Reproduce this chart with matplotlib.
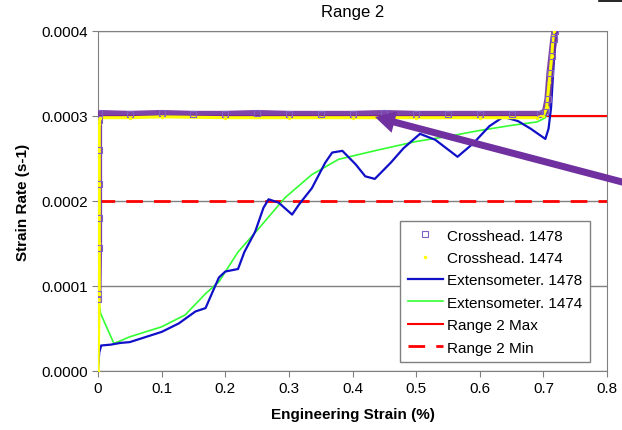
import matplotlib
matplotlib.use("Agg")
import matplotlib.pyplot as plt
from matplotlib.patches import FancyArrow
from matplotlib.lines import Line2D

plt.rcParams['font.family'] = ['Liberation Sans', 'DejaVu Sans']

# crosshead 1478 (purple squares)
ch78_x = [0.0, 0.0, 0.001, 0.001, 0.001, 0.001, 0.001, 0.002, 0.05, 0.1, 0.15, 0.2, 0.25, 0.3, 0.35,
          0.4, 0.45, 0.5, 0.55, 0.6, 0.65, 0.695, 0.703, 0.707, 0.710, 0.713, 0.716, 0.718]
ch78_y = [0.000085, 0.000090, 0.000145, 0.00018, 0.00022, 0.00026, 0.000295, 0.000303, 0.000302, 0.000303,
          0.000302, 0.000302, 0.000303, 0.000302, 0.000302, 0.000302, 0.000303, 0.000302, 0.000302,
          0.000302, 0.000302, 0.000302, 0.000305, 0.00032, 0.00035, 0.00037, 0.00039, 0.0004]
# crosshead 1474 (yellow dots)
ch74_x = [0.0, 0.002, 0.002, 0.002, 0.002, 0.003, 0.05, 0.1, 0.2, 0.3, 0.4, 0.5, 0.6, 0.69, 0.70,
          0.705, 0.709, 0.713, 0.716]
ch74_y = [0.0, 0.00009, 0.00015, 0.00022, 0.00029, 0.000298, 0.000298, 0.000299, 0.000298, 0.000298,
          0.000298, 0.000298, 0.000298, 0.000298, 0.0003, 0.00031, 0.00034, 0.00037, 0.0004]

# extensometer 1478 (blue)
ex78_x = [0.0, 0.002, 0.005, 0.02, 0.035, 0.05, 0.075, 0.1, 0.127, 0.153, 0.169, 0.18, 0.19, 0.2,
          0.22, 0.23, 0.247, 0.26, 0.268, 0.284, 0.305, 0.316, 0.336, 0.357, 0.368, 0.384, 0.405,
          0.42, 0.435, 0.46, 0.48, 0.506, 0.53, 0.565, 0.59, 0.615, 0.637, 0.66, 0.68, 0.703, 0.708,
          0.712, 0.716, 0.72]
ex78_y = [0.000003, 0.000022, 0.00003, 0.000031, 0.000033, 0.000034, 0.00004, 0.000046, 0.000056,
          0.00007, 0.000074, 0.000093, 0.00011, 0.000117, 0.00012, 0.00014, 0.000164, 0.000192,
          0.000202, 0.000198, 0.000184, 0.000196, 0.000215, 0.000245, 0.000257, 0.000259, 0.000243,
          0.000229, 0.000226, 0.000245, 0.000262, 0.000279, 0.000272, 0.000252, 0.000268, 0.000288,
          0.000299, 0.000294, 0.000285, 0.000273, 0.000285, 0.00031, 0.00036, 0.0004]
# extensometer 1474 (green)
ex74_x = [0.0, 0.004, 0.025, 0.049, 0.10, 0.137, 0.169, 0.19, 0.22, 0.253, 0.294, 0.336, 0.378,
          0.44, 0.5, 0.55, 0.6, 0.65, 0.69, 0.703, 0.71, 0.715, 0.72]
ex74_y = [0.00009, 0.0000677, 0.0000323, 0.00004, 0.000052, 0.000066, 0.000091, 0.000105, 0.00014,
          0.000168, 0.000204, 0.000231, 0.000249, 0.00026, 0.00027, 0.000276, 0.000283, 0.000289,
          0.000293, 0.000298, 0.00032, 0.00036, 0.0004]

range_max = 0.0003
range_min = 0.0002

purple = '#7030A0'
fig = plt.figure(figsize=(6.22, 4.31), dpi=100)
ax = fig.add_axes([0.1576, 0.1369, 0.8184, 0.7889])

ax.axhline(range_max, color='#FF0000', lw=1.5, zorder=2, label='Range 2 Max')
ax.axhline(range_min, color='#FF0000', lw=2, ls=(0, (6, 4)), zorder=2, label='Range 2 Min')
ax.plot(ex74_x, ex74_y, color='#33FF33', lw=1.2, zorder=3, label='Extensometer. 1474')
ax.plot(ex78_x, ex78_y, color='#1010C8', lw=1.6, zorder=3, label='Extensometer. 1478')
# thick bands for the dense crosshead markers
ax.plot(ch78_x, ch78_y, color=purple, lw=5, alpha=0.9, zorder=4)
ax.plot(ch74_x, ch74_y, color='#FFFF00', lw=2.2, zorder=5)
ax.plot(ch78_x, ch78_y, ls='none', marker='s', ms=5, mfc='none', mec='#8060C0', mew=0.8, zorder=6,
        label='Crosshead. 1478')
ax.plot(ch74_x, ch74_y, ls='none', marker='.', ms=3, color='#FFFF00', zorder=6, label='Crosshead. 1474')

ax.set_xlim(0, 0.8)
ax.set_ylim(0, 0.0004)
ax.set_xticks([0, 0.1, 0.2, 0.3, 0.4, 0.5, 0.6, 0.7, 0.8])
ax.set_xticklabels(['0', '0.1', '0.2', '0.3', '0.4', '0.5', '0.6', '0.7', '0.8'])
ax.set_yticks([0, 0.0001, 0.0002, 0.0003, 0.0004])
ax.set_yticklabels(['0.0000', '0.0001', '0.0002', '0.0003', '0.0004'])
ax.tick_params(labelsize=11, direction='out', length=4, color='#808080')
for s in ax.spines.values():
    s.set_color('#808080')
ax.grid(axis='y', color='#808080', lw=1)
ax.set_axisbelow(True)
ax.set_title('Range 2', fontsize=12, pad=11)
ax.set_xlabel('Engineering Strain (%)', fontsize=11, fontweight='bold', labelpad=8)
ax.set_ylabel('Strain Rate (s-1)', fontsize=11, fontweight='bold', labelpad=8)

h, l = ax.get_legend_handles_labels()
order = ['Crosshead. 1478', 'Crosshead. 1474', 'Extensometer. 1478', 'Extensometer. 1474',
         'Range 2 Max', 'Range 2 Min']
hd = dict(zip(l, h))
leg = ax.legend([hd[k] for k in order], order, loc='lower right', bbox_to_anchor=(0.967, 0.026),
                borderaxespad=0, fontsize=11, frameon=True, fancybox=False, edgecolor='#808080',
                framealpha=1, handlelength=2.3, handletextpad=0.3, labelspacing=0.55, borderpad=0.5)
leg.get_frame().set_linewidth(1)

# purple pointer arrow, in figure pixels
arrow = FancyArrow(624, 431 - 183.5, 375 - 624, 183.5 - 118, width=7, head_width=22, head_length=20,
                   length_includes_head=True, transform=None, color=purple, lw=0, zorder=10)
fig.patches.append(arrow)
fig.lines.append(Line2D([599 / 622, 1], [1 - 2 / 431, 1 - 2 / 431], transform=fig.transFigure,
                        color='black', lw=1.2))

fig.savefig('out.png', dpi=100)
